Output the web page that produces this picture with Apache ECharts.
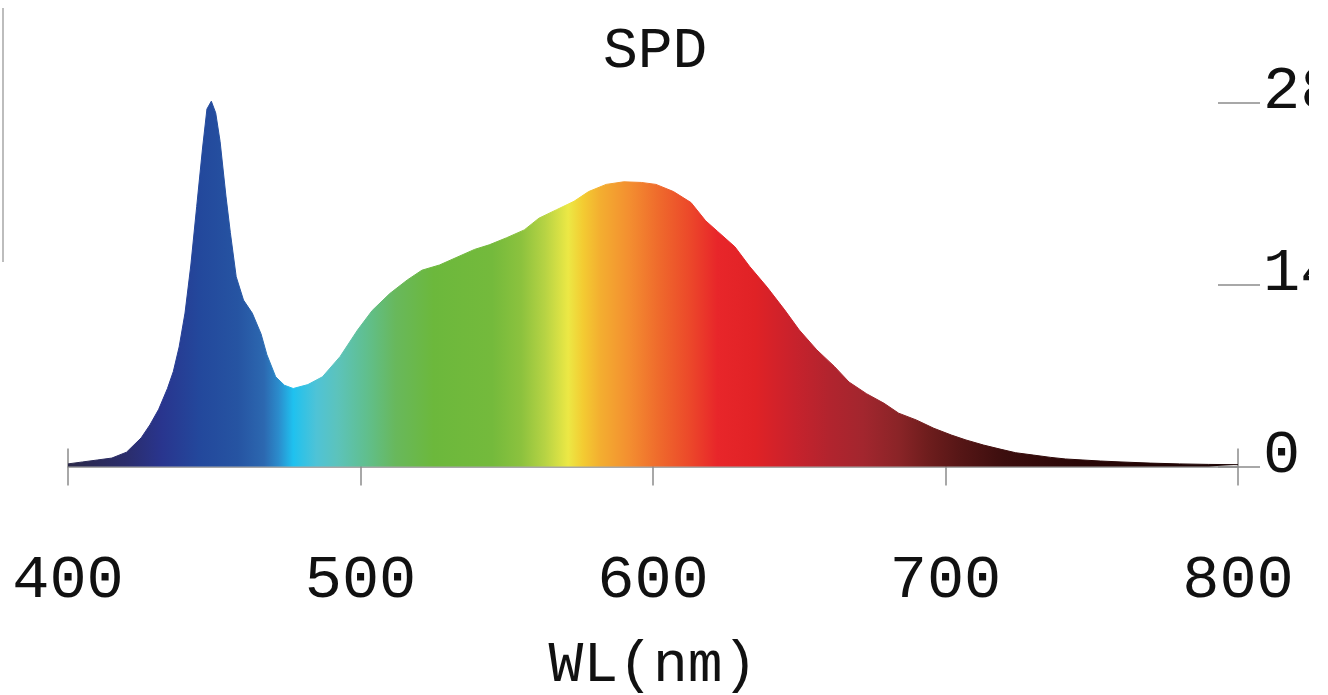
<!DOCTYPE html>
<html>
<head>
<meta charset="utf-8">
<script src="https://cdn.jsdelivr.net/npm/echarts@6/dist/echarts.min.js"></script>
<style>html,body{margin:0;padding:0;background:#fff}#c{width:1328px;height:695px}</style>
</head>
<body>
<div id="c"></div>
<script>
const wavelengths = [400,405,410,415,420,425,428,431,434,436,438,440,442,444,446,447.5,449,450.5,452,454,455.5,457.5,460,463,466,468,471,474,477,482,487,493,499,504,510,516,521,527,533,539,544,550,556,561,567,573,578,584,590,596,601,607,613,618,622,628,633,639,645,650,656,662,667,673,679,684,690,696,702,707,713,719,724,730,736,741,747,753,760,770,780,790,800];
const spdValues = [0.2,0.35,0.5,0.65,1.1,2.2,3.2,4.4,6.0,7.3,9.2,11.8,15.5,20.0,24.5,27.5,28.1,27.2,25.0,20.8,18.0,14.6,12.8,11.8,10.2,8.6,6.9,6.25,6.0,6.3,6.9,8.45,10.5,12.0,13.3,14.35,15.1,15.5,16.1,16.7,17.05,17.6,18.2,19.1,19.75,20.4,21.15,21.7,21.9,21.85,21.7,21.15,20.3,18.9,18.1,16.9,15.4,13.8,12.05,10.5,8.97,7.7,6.5,5.6,4.86,4.1,3.58,2.94,2.42,2.04,1.65,1.32,1.06,0.88,0.7,0.58,0.5,0.42,0.35,0.26,0.2,0.16,0.14];
const xTicks = [400,500,600,700,800];
const yTicks = [0,14,28];
const stopWavelengths = [400,420,432,445,458,467,472,477,485,492,502,512,525,545,555,563,571,576,582,592,602,612,622,635,648,660,672,684,694,705,720,745,800];
const stopColors = ['#2a2848','#2b2d6c','#29358e','#23489c','#2654a2','#2c68b0','#2b8ccc','#1fc1ef','#4fc3d6','#5cc3bc','#60bf8e','#68b85c','#6cb83c','#74ba3c','#8cc23e','#b6d344','#ece845','#f3cc32','#f3ae30','#f38e30','#ef6a2c','#ec4a2a','#e8262a','#e02226','#c8222c','#b2242e','#a2262e','#8a2427','#6e1d1d','#561616','#3c0e0e','#2a0707','#1a0303'];

const chart = echarts.init(document.getElementById('c'));
const gradStops = stopWavelengths.map((w, i) => ({offset: (w - 400) / 400, color: stopColors[i]}));
const grad = new echarts.graphic.LinearGradient(0, 0, 1, 0, gradStops);
const FONT = '"Courier New", Courier, "Nimbus Mono PS", "Nimbus Mono L", FreeMono, "Liberation Mono", monospace';
const axisGray = '#8c8c8c';

chart.setOption({
  animation: false,
  backgroundColor: '#fff',
  title: {
    text: 'SPD', left: 598, top: 18,
    textStyle: {fontFamily: FONT, fontSize: 58, fontWeight: 'normal', color: '#111'}
  },
  grid: {left: 68, right: 90, top: 102.5, bottom: 228.5, containLabel: false, outerBoundsMode: 'none'},
  xAxis: [{
    type: 'value', min: 400, max: 800, interval: 100,
    name: 'WL(nm)', nameLocation: 'middle', nameGap: 170,
    nameTextStyle: {fontFamily: FONT, fontSize: 58, fontWeight: 'normal', color: '#111'},
    axisLine: {show: true, lineStyle: {color: axisGray, width: 1.5}},
    axisTick: {show: true, length: 19, lineStyle: {color: axisGray, width: 1.5}},
    axisLabel: {
      margin: 83, fontFamily: FONT, fontSize: 62, color: '#111',
      showMinLabel: true, showMaxLabel: true,
      formatter: v => xTicks.includes(v) ? String(v) : ''
    },
    splitLine: {show: false}
  }, {
    type: 'value', min: 400, max: 800, interval: 100, position: 'bottom', offset: 0,
    axisLine: {show: false},
    axisTick: {show: true, inside: true, length: 18, lineStyle: {color: axisGray, width: 1.5}},
    axisLabel: {show: false}, splitLine: {show: false}
  }],
  yAxis: {
    type: 'value', min: 0, max: 28, interval: 14, position: 'right', offset: -20,
    axisLine: {show: false},
    axisTick: {show: true, length: 42, lineStyle: {color: axisGray, width: 1.5}},
    axisLabel: {
      margin: 45, fontFamily: FONT, fontSize: 62, color: '#111',
      verticalAlign: 'bottom', lineHeight: 22,
      formatter: v => yTicks.includes(v) ? String(v) : ''
    },
    splitLine: {show: false}
  },
  series: [{
    type: 'line',
    data: wavelengths.map((w, i) => [w, spdValues[i]]),
    showSymbol: false, smooth: false, clip: false,
    lineStyle: {width: 1, color: grad},
    areaStyle: {color: grad, opacity: 1},
    z: 1
  }],
  graphic: [
    {type: 'line', shape: {x1: 3, y1: 8, x2: 3, y2: 262}, style: {stroke: '#bdbdbd', lineWidth: 2}},
    {type: 'rect', shape: {x: 1309, y: 0, width: 19, height: 695}, style: {fill: '#fff'}, z: 100}
  ]
});
</script>
</body>
</html>
